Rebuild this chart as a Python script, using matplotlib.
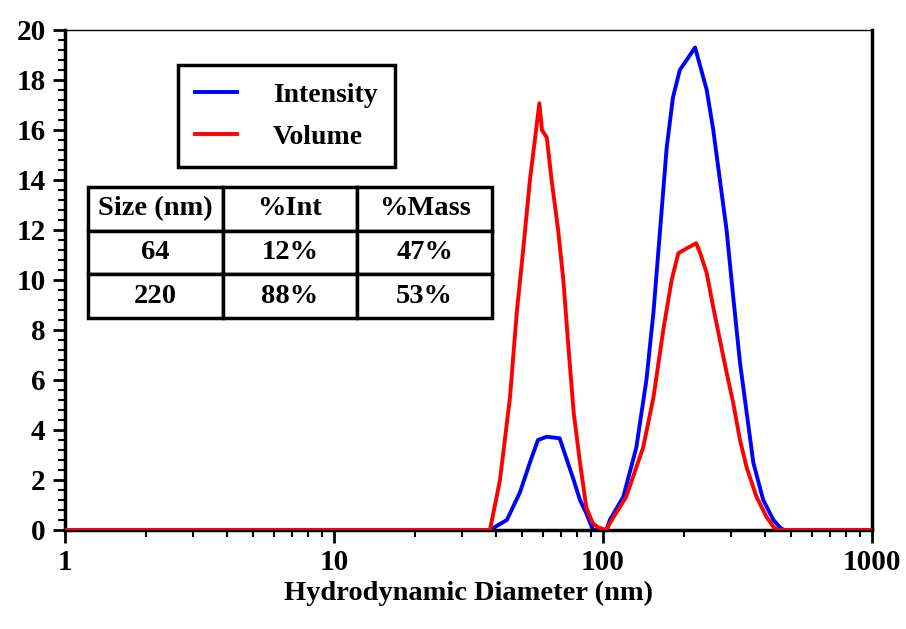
import matplotlib.pyplot as plt
from matplotlib.ticker import MultipleLocator, FixedLocator, NullFormatter
import numpy as np

plt.rcParams['font.family'] = ['Liberation Serif', 'DejaVu Serif']
plt.rcParams['font.weight'] = 'bold'

# size distribution, read as (diameter nm, percent)
int_d = [1, 38, 43.9, 49.1, 53.5, 57.3, 61.8, 69, 72, 77.8, 82.1, 86.7, 90.7, 92,
         103, 106, 119, 133, 145, 154, 163, 172.5, 182, 193, 220, 243, 257, 272,
         288, 305, 323, 342, 362, 394, 430, 455, 470, 1000]
int_v = [0, 0, 0.4, 1.5, 2.7, 3.6, 3.73, 3.67, 3.07, 2.0, 1.2, 0.67, 0.13, 0,
         0, 0.4, 1.33, 3.3, 6.0, 8.7, 12.0, 15.3, 17.3, 18.4, 19.3, 17.6, 16.0, 14.0,
         12.0, 9.3, 6.7, 4.7, 2.7, 1.2, 0.4, 0.1, 0, 0]

vol_d = [1, 38, 41.4, 45.1, 47.8, 50.6, 53.5, 58, 59.3, 61.8, 64.4, 68.1, 71.2,
         74.4, 77.8, 82.1, 86.7, 91.6, 96, 103, 106, 122, 141, 154, 167.5, 180,
         190.5, 205, 222, 230, 243, 257, 272, 288, 305, 323, 342, 372, 405, 430,
         445, 1000]
vol_v = [0, 0, 2.0, 5.3, 8.7, 11.3, 14.0, 17.07, 16.0, 15.7, 14.0, 12.0, 10.0,
         7.3, 4.7, 2.7, 0.9, 0.27, 0.1, 0, 0.27, 1.33, 3.3, 5.3, 8.0, 10.0,
         11.07, 11.27, 11.47, 11.07, 10.27, 8.9, 7.6, 6.3, 5.07, 3.6, 2.5, 1.33, 0.53, 0.13,
         0, 0]

table_cols = ['Size (nm)', '%Int', '%Mass']
table_rows = [['64', '12%', '47%'],
              ['220', '88%', '53%']]

fig = plt.figure(figsize=(9.06, 6.29), dpi=100)
ax = fig.add_axes([65 / 906, 1 - 530 / 629, 807 / 906, 500 / 629])

ax.plot(vol_d, vol_v, color='#ff0000', lw=2.8, zorder=3, label='Volume')
ax.plot(int_d, int_v, color='#0000ff', lw=2.8, zorder=2, label='Intensity')

ax.set_xscale('log')
ax.set_xlim(1, 1000)
ax.set_ylim(0, 20)
ax.yaxis.set_major_locator(MultipleLocator(2))
ax.yaxis.set_minor_locator(MultipleLocator(0.4))
ax.set_xticks([1, 10, 100, 1000])
ax.set_xticklabels(['1', '10', '100', '1000'])
ax.xaxis.set_minor_locator(FixedLocator(
    [m * 10 ** e for e in range(3) for m in range(2, 10)]))
ax.xaxis.set_minor_formatter(NullFormatter())

ax.tick_params(which='major', direction='out', length=9, width=2,
               labelsize=21, pad=5)
ax.tick_params(which='minor', direction='out', length=5, width=1.5)
for s in ax.spines.values():
    s.set_linewidth(2.5)
ax.spines['top'].set_linewidth(1)

ax.set_xlabel('Hydrodynamic Diameter (nm)', fontsize=20.5, fontweight='bold', labelpad=3)

# legend box
h, l = ax.get_legend_handles_labels()
leg = ax.legend(h[::-1], l[::-1], loc='upper left',
                bbox_to_anchor=((178 - 65) / 807, (530 - 65) / 500),
                borderaxespad=0, fontsize=20, frameon=True, fancybox=False,
                edgecolor='black', framealpha=1,
                handlelength=1.5, handletextpad=1.3, labelspacing=0.6,
                borderpad=0.62)
leg.get_frame().set_linewidth(2.5)

# size / percentage table
tb = ax.table(cellText=table_rows, colLabels=table_cols, cellLoc='center',
              bbox=[(88 - 65) / 807, (530 - 318) / 500, 404 / 807, 131 / 500])
tb.auto_set_font_size(False)
tb.set_fontsize(20.5)
for (r, c), cell in tb.get_celld().items():
    cell.set_linewidth(2.5)
    cell.get_text().set_fontweight('bold')
tb.set_zorder(5)

fig.savefig('out.png', dpi=100, facecolor='white')
